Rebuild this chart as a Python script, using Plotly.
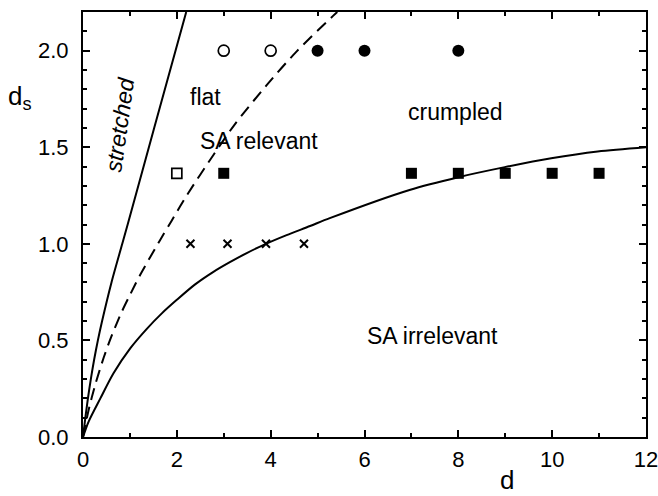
import plotly.graph_objects as go

# ---- data ----
stretched_d = [0, 0.05, 0.105, 0.167, 0.237, 0.317, 0.407, 0.607, 0.837, 0.952, 1.517, 2.20]
stretched_ds = [0, 0.10, 0.20, 0.30, 0.40, 0.50, 0.60, 0.80, 1.00, 1.10, 1.60, 2.20]

dashed_d = [0, 0.12, 0.26, 0.44, 0.62, 0.83, 1.01, 1.22, 1.645, 1.89, 2.21, 2.78, 3.24, 3.91, 4.55, 5.33, 5.42]
dashed_ds = [0, 0.14, 0.27, 0.41, 0.53, 0.65, 0.74, 0.84, 1.02, 1.12, 1.25, 1.46, 1.62, 1.82, 1.995, 2.18, 2.20]

lower_d = [0, 0.12, 0.37, 0.65, 1.01, 1.36, 1.68, 2.0, 2.39, 2.78, 3.13, 3.49, 3.9, 4.34, 4.84, 5.26, 6.96, 8.0, 8.99, 9.98, 10.97, 12.0]
lower_ds = [0, 0.08, 0.20, 0.33, 0.46, 0.56, 0.64, 0.71, 0.79, 0.855, 0.905, 0.952, 1.0, 1.045, 1.092, 1.133, 1.279, 1.345, 1.397, 1.443, 1.478, 1.50]

open_circle_d = [3, 4]
open_circle_ds = [2.0, 2.0]
filled_circle_d = [5, 6, 8]
filled_circle_ds = [2.0, 2.0, 2.0]
open_square_d = [2]
open_square_ds = [1.365]
filled_square_d = [3, 7, 8, 9, 10, 11]
filled_square_ds = [1.365] * 6
cross_d = [2.29, 3.08, 3.90, 4.71]
cross_ds = [1.0, 1.0, 1.0, 1.0]

x_ticks = [0, 2, 4, 6, 8, 10, 12]
y_ticks = [0.0, 0.5, 1.0, 1.5, 2.0]

FONT = "Liberation Sans, Arial, sans-serif"

fig = go.Figure()
line_style = dict(color="black", width=2, shape="spline", smoothing=0.8)
fig.add_trace(go.Scatter(x=stretched_d, y=stretched_ds, mode="lines", line=line_style))
fig.add_trace(go.Scatter(x=dashed_d, y=dashed_ds, mode="lines",
                         line=dict(line_style, dash="12px,7px")))
fig.add_trace(go.Scatter(x=lower_d, y=lower_ds, mode="lines", line=line_style))

fig.add_trace(go.Scatter(x=open_circle_d, y=open_circle_ds, mode="markers",
                         marker=dict(symbol="circle-open", size=11, color="black", line=dict(width=1.7, color="black"))))
fig.add_trace(go.Scatter(x=filled_circle_d, y=filled_circle_ds, mode="markers",
                         marker=dict(symbol="circle", size=12, color="black")))
fig.add_trace(go.Scatter(x=open_square_d, y=open_square_ds, mode="markers",
                         marker=dict(symbol="square-open", size=10, color="black", line=dict(width=1.7, color="black"))))
fig.add_trace(go.Scatter(x=filled_square_d, y=filled_square_ds, mode="markers",
                         marker=dict(symbol="square", size=11, color="black")))
fig.add_trace(go.Scatter(x=cross_d, y=cross_ds, mode="markers",
                         marker=dict(symbol="x-thin", size=8, color="black", line=dict(width=2, color="black"))))

ann_font = dict(family=FONT, size=23, color="black")
annotations = [
    dict(x=0.78, y=1.616, text="<i>stretched</i>", textangle=-82, showarrow=False, font=ann_font,
         xref="x", yref="y", xanchor="center", yanchor="middle"),
    dict(x=2.61, y=1.76, text="flat", showarrow=False, font=ann_font, xref="x", yref="y"),
    dict(x=3.76, y=1.53, text="SA relevant", showarrow=False, font=ann_font, xref="x", yref="y"),
    dict(x=7.94, y=1.68, text="crumpled", showarrow=False, font=ann_font, xref="x", yref="y"),
    dict(x=7.45, y=0.525, text="SA irrelevant", showarrow=False, font=ann_font, xref="x", yref="y"),
    dict(x=(507 - 82.7) / 563.3, y=(437.3 - 480.5) / 425.3, text="d", showarrow=False,
         font=dict(family=FONT, size=26, color="black"), xref="paper", yref="paper",
         xanchor="center", yanchor="middle"),
    dict(x=(6 - 82.7) / 563.3, y=(437.3 - 98) / 425.3, text="d<sub>s</sub>", showarrow=False,
         font=dict(family=FONT, size=26, color="black"), xref="paper", yref="paper",
         xanchor="left", yanchor="middle"),
]

axis_common = dict(showline=True, linecolor="black", linewidth=2, mirror="ticks",
                   ticks="inside", ticklen=7, tickwidth=1.5, tickcolor="black",
                   showgrid=False, zeroline=False, automargin=False,
                   ticklabeloverflow="allow",
                   tickfont=dict(family=FONT, size=22, color="black"))

fig.update_xaxes(range=[0, 12], tickvals=x_ticks, ticktext=[str(v) for v in x_ticks],
                 ticklabelstandoff=2,
                 minor=dict(ticks="inside", ticklen=4, tickwidth=1.5, tickcolor="black", dtick=1, tick0=0, showgrid=False),
                 **axis_common)
fig.update_yaxes(range=[0, 2.2], tickvals=y_ticks, ticktext=[f"{v:.1f}" for v in y_ticks],
                 ticklabelstandoff=8,
                 minor=dict(ticks="inside", ticklen=4, tickwidth=1.5, tickcolor="black", dtick=0.1, tick0=0, showgrid=False),
                 **axis_common)

fig.update_layout(width=658, height=496, margin=dict(l=83, r=12, t=12, b=59),
                  plot_bgcolor="white", paper_bgcolor="white", showlegend=False,
                  annotations=annotations, font=dict(family=FONT))

fig.write_html("out.html", config={"displayModeBar": False},
               post_script="document.body.style.margin='0';document.body.style.overflow='hidden';")
